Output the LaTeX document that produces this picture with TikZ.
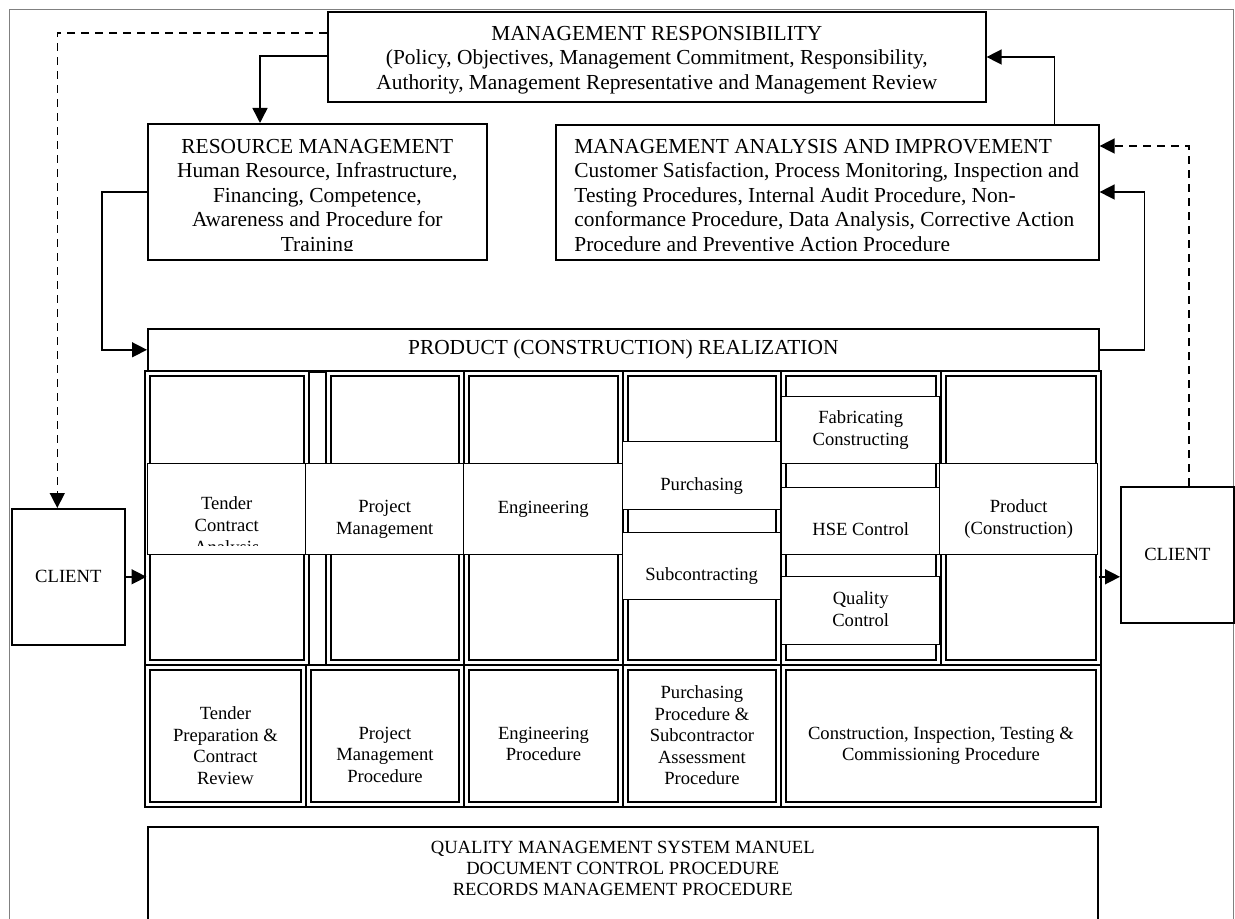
\documentclass[tikz,border=0pt]{standalone}
\usepackage{fontspec}
\setmainfont{Liberation Serif}
\usepackage{tikz}
\usetikzlibrary{arrows.meta}
\usetikzlibrary{positioning}

\tikzset{
  box/.style={draw, line width=0.8pt, fill=white, inner sep=0pt, anchor=north west},
  cell/.style={box, line width=0.7pt},
  dbl/.style={draw, line width=0.95pt, double=white, double distance=1.2pt, inner sep=0pt, anchor=north west},
  bigtxt/.style={inner sep=0pt, align=center, font=\fontsize{10.7}{12.25}\selectfont},
  celltxt/.style={inner sep=0pt, align=center, font=\fontsize{9.3}{11}\selectfont},
  proctxt/.style={inner sep=0pt, align=center, font=\fontsize{9.3}{10.75}\selectfont},
  link/.style={line width=0.75pt, -{Triangle[length=7.5pt,width=7.5pt]}},
  dlink/.style={link, dash pattern=on 4pt off 3pt}
}

\begin{document}
\begin{tikzpicture}[x=0.5pt,y=-0.5pt]
  \clip (0,0) rectangle (1235,919);
  \draw[gray, line width=0.5pt] (9.5,10) rectangle (1233,960);

  % management boxes
  \node[box, minimum width=329pt, minimum height=45pt] (mr) at (327,11) {};
  \node[bigtxt, below=7.25pt of mr.north] (mrt) {MANAGEMENT RESPONSIBILITY\\(Policy, Objectives, Management Commitment, Responsibility,\\Authority, Management Representative and Management Review};

  \node[box, minimum width=169.5pt, minimum height=68pt] (rm) at (147,123) {};
  \begin{scope}
    \clip ([yshift=5pt]rm.south west) rectangle (rm.north east);
    \node[bigtxt, below=7.75pt of rm.north] (rmt) {RESOURCE MANAGEMENT\\Human Resource, Infrastructure,\\Financing, Competence,\\Awareness and Procedure for\\Training};
  \end{scope}

  \node[box, minimum width=271.5pt, minimum height=67.5pt] (mai) at (555,124) {};
  \begin{scope}
    \clip ([yshift=5pt]mai.south west) rectangle (mai.north east);
    \node[bigtxt, align=left, anchor=north west] (mait) at ([xshift=9.5pt,yshift=-7.25pt]mai.north west) {MANAGEMENT ANALYSIS AND IMPROVEMENT\\Customer Satisfaction, Process Monitoring, Inspection and\\Testing Procedures, Internal Audit Procedure, Non-\\conformance Procedure, Data Analysis, Corrective Action\\Procedure and Preventive Action Procedure};
  \end{scope}

  \node[box, bigtxt, minimum width=475.5pt, minimum height=21pt] (pcr) at (147,328) {PRODUCT (CONSTRUCTION) REALIZATION};

  \node[box, font=\fontsize{9.3}{11}\selectfont, minimum width=56.5pt, minimum height=68pt] (cll) at (11,508) {CLIENT};
  \node[box, font=\fontsize{9.3}{11}\selectfont, minimum width=56.5pt, minimum height=68pt] (clr) at (1120,486) {CLIENT};

  % realization grid
  \foreach \l/\r [count=\i] in {144/308,325/463,463/622,622/780,780/940,940/1100}
    \node[dbl, minimum width={(\r-\l-5)*0.5pt}, minimum height=144.5pt] (col\i) at (\l+2.5,372.5) {};
  \draw[line width=0.6pt] (308,372) -- (325,372);
  \foreach \l/\r [count=\i] in {144/305,305/463,463/622,622/780,780/1100}
    \node[dbl, minimum width={(\r-\l-5)*0.5pt}, minimum height=68.5pt] (proc\i) at (\l+2.5,666.5) {};

  \node[cell, minimum width=79pt, minimum height=45.5pt] (tca) at (147,463) {};
  \begin{scope}
    \clip ([yshift=4.75pt]tca.south west) rectangle (tca.north east);
    \node[celltxt, below=16.75pt of tca.north] (tcat) {Tender\\Contract\\Analysis};
  \end{scope}
  \node[cell, minimum width=79pt, minimum height=45.5pt] (pm) at (305,463) {};
  \node[celltxt, below=18.25pt of pm.north] (pmt) {Project\\Management};
  \node[cell, minimum width=79.5pt, minimum height=45.5pt] (eng) at (463,463) {};
  \node[celltxt, below=18.75pt of eng.north] (engt) {Engineering};
  \node[cell, minimum width=79pt, minimum height=34pt] (pur) at (622,441) {};
  \node[celltxt, below=18.25pt of pur.north] (purt) {Purchasing};
  \node[cell, minimum width=79pt, minimum height=33.5pt] (sub) at (622,532) {};
  \node[celltxt, below=17.75pt of sub.north] (subt) {Subcontracting};
  \node[cell, minimum width=79pt, minimum height=33.5pt] (fab) at (781,396) {};
  \node[celltxt, below=7.25pt of fab.north] (fabt) {Fabricating\\Constructing};
  \node[cell, minimum width=79pt, minimum height=33.5pt] (hse) at (781,487) {};
  \node[celltxt, below=17.75pt of hse.north] (hset) {HSE Control};
  \node[cell, minimum width=79pt, minimum height=34pt] (qc) at (781,576) {};
  \node[celltxt, below=7.75pt of qc.north] (qct) {Quality\\Control};
  \node[cell, minimum width=79pt, minimum height=45.5pt] (prod) at (939,463) {};
  \node[celltxt, below=18.25pt of prod.north] (prodt) {Product\\(Construction)};

  % procedures
  \node[proctxt, below=20pt of proc1.north] (proc1t) {Tender\\Preparation \&\\Contract\\Review};
  \node[proctxt, below=30pt of proc2.north] (proc2t) {Project\\Management\\Procedure};
  \node[proctxt, below=30pt of proc3.north] (proc3t) {Engineering\\Procedure};
  \node[proctxt, below=9.5pt of proc4.north] (proc4t) {Purchasing\\Procedure \&\\Subcontractor\\Assessment\\Procedure};
  \node[proctxt, below=30pt of proc5.north] (proc5t) {Construction, Inspection, Testing \&\\Commissioning Procedure};

  \node[box, minimum width=475pt, minimum height=60pt] (qms) at (147,826) {};
  \node[proctxt, font=\fontsize{9.3}{10.5}\selectfont, below=7.25pt of qms.north] (qmst) {QUALITY MANAGEMENT SYSTEM MANUEL\\DOCUMENT CONTROL PROCEDURE\\RECORDS MANAGEMENT PROCEDURE};

  % connectors
  \draw[dlink] ([yshift=-11pt]mr.north west) -| ([xshift=-5.5pt]cll.north);
  \draw[link] ([yshift=-22.5pt]mr.north west) -| ([xshift=56.5pt]rm.north west);
  \draw[link] ([yshift=-34.5pt]rm.north west) -- ++(-22.5pt,0) |- (pcr.west);
  \draw[link] (cll.east) -- (cll.east -| col1.west);
  \draw[link] (cll.east -| col6.east) -- (cll.east -| clr.west);
  \draw[dlink] ([xshift=5.75pt]clr.north) |- ([yshift=-11pt]mai.north east);
  \draw[link] (pcr.east) -- ++(22.5pt,0) |- ([yshift=-34pt]mai.north east);
  \draw[link] ([xshift=-22.5pt]mai.north east) |- ([yshift=-23pt]mr.north east);
\end{tikzpicture}
\end{document}
